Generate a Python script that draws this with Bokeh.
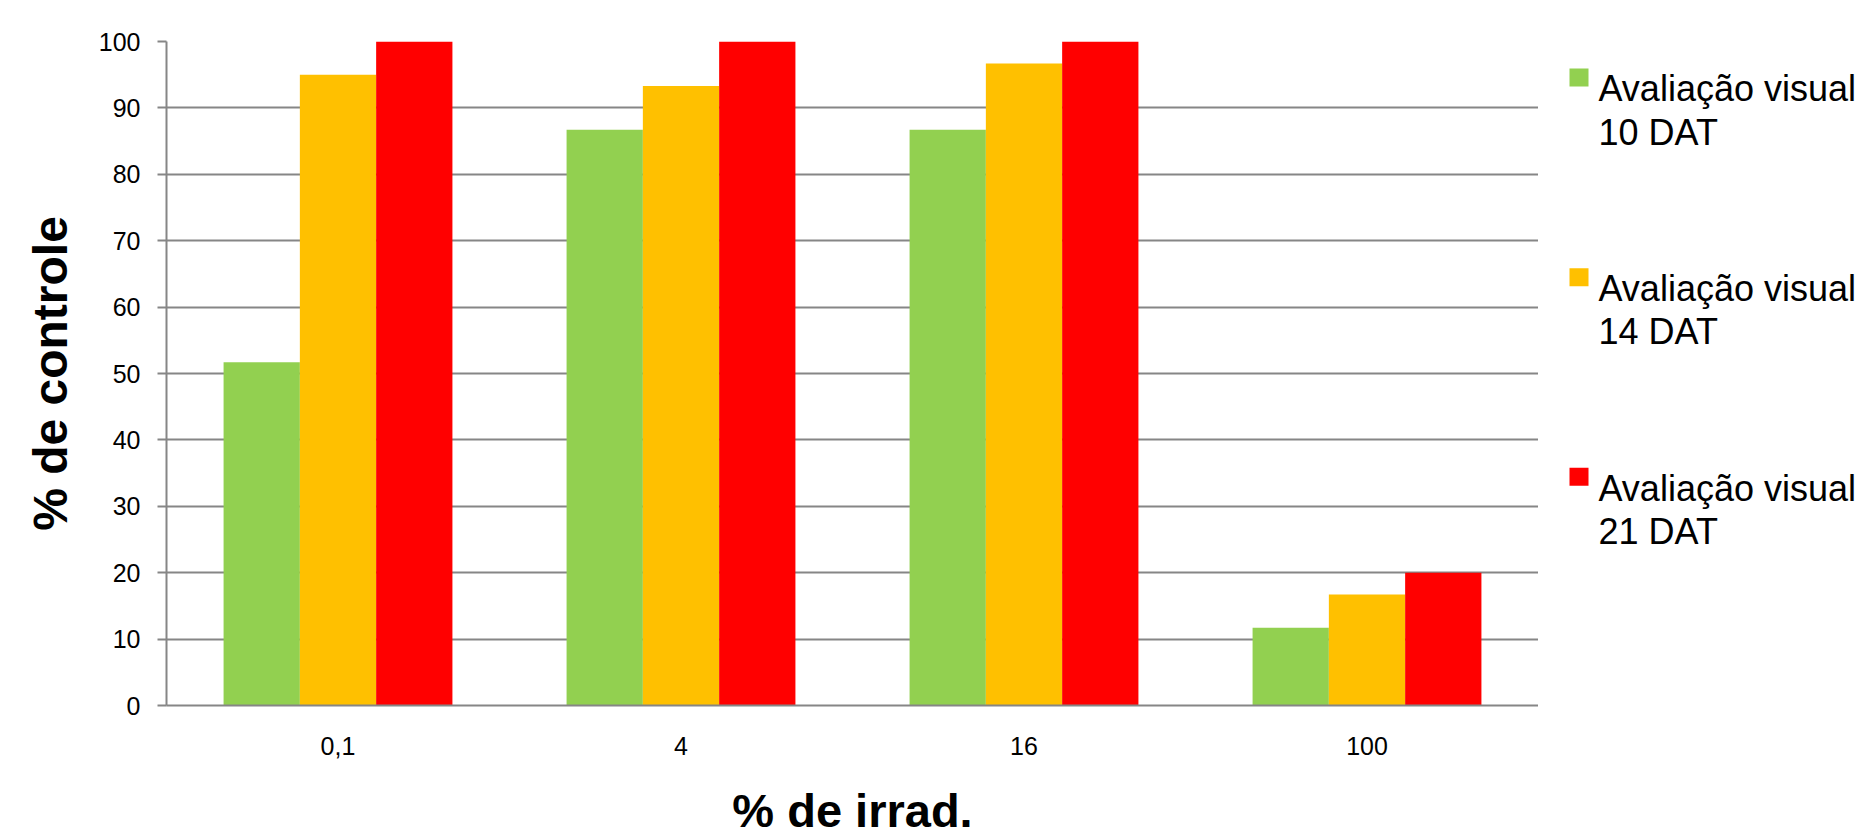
from bokeh.plotting import figure
from bokeh.layouts import row
from bokeh.models import (ColumnDataSource, FactorRange, Range1d, FixedTicker)
from bokeh.transform import dodge
from bokeh.core.properties import value
from bokeh.embed import file_html
from bokeh.resources import INLINE

categories = ["0,1", "4", "16", "100"]
v10 = [51.7, 86.7, 86.7, 11.7]
v14 = [95.0, 93.3, 96.7, 16.7]
v21 = [100.0, 100.0, 100.0, 20.0]
series_labels = ["Avaliação visual\n10 DAT", "Avaliação visual\n14 DAT", "Avaliação visual\n21 DAT"]
colors = ["#92D050", "#FFC000", "#FF0000"]
y_ticks = list(range(0, 101, 10))

FONT = "Liberation Sans"
GRAY = "#868686"
TOTAL_W, TOTAL_H = 1866, 839
MAIN_W = 1538
LEG_W = TOTAL_W - MAIN_W
TOP, BOTTOM = 41, 133
FRAME_BOTTOM_PX = TOTAL_H - BOTTOM

src = ColumnDataSource(dict(cat=categories, v10=v10, v14=v14, v21=v21))

p = figure(width=MAIN_W, height=TOTAL_H,
           x_range=FactorRange(factors=categories, range_padding=0),
           y_range=Range1d(0, 100),
           output_backend="svg", toolbar_location=None,
           min_border_left=166, min_border_top=TOP,
           min_border_bottom=BOTTOM, min_border_right=0)
p.outline_line_color = None
p.background_fill_color = "white"
p.border_fill_color = "white"

bw = 0.2224
for off, col, c in zip([-bw, 0.0, bw], ["v10", "v14", "v21"], colors):
    p.vbar(x=dodge("cat", off, range=p.x_range), top=col, width=bw, source=src,
           fill_color=c, line_color=None)

# grid
p.xgrid.grid_line_color = None
p.ygrid.grid_line_color = GRAY
p.ygrid.grid_line_width = 2
p.ygrid.ticker = FixedTicker(ticks=y_ticks)

# y axis
p.yaxis.ticker = FixedTicker(ticks=y_ticks)
p.yaxis.axis_line_color = GRAY
p.yaxis.axis_line_width = 2
p.yaxis.major_tick_line_color = GRAY
p.yaxis.major_tick_line_width = 2
p.yaxis.major_tick_in = 0
p.yaxis.major_tick_out = 9
p.yaxis.minor_tick_line_color = None
p.yaxis.major_label_standoff = 17
p.yaxis.major_label_text_font = FONT
p.yaxis.major_label_text_font_size = "25px"
p.yaxis.major_label_text_color = "#000000"
p.yaxis.axis_label = "% de controle"
p.yaxis.axis_label_text_font = FONT
p.yaxis.axis_label_text_font_size = "48px"
p.yaxis.axis_label_text_font_style = "bold"
p.yaxis.axis_label_text_color = "#000000"
p.yaxis.axis_label_standoff = 19

# x axis
p.xaxis.axis_line_color = GRAY
p.xaxis.axis_line_width = 2
p.xaxis.major_tick_line_color = None
p.xaxis.major_tick_in = 0
p.xaxis.major_tick_out = 0
p.xaxis.minor_tick_line_color = None
p.xaxis.major_label_standoff = 31
p.xaxis.major_label_text_font = FONT
p.xaxis.major_label_text_font_size = "25px"
p.xaxis.major_label_text_color = "#000000"
p.xaxis.axis_label = "% de irrad."
p.xaxis.axis_label_text_font = FONT
p.xaxis.axis_label_text_font_size = "47px"
p.xaxis.axis_label_text_font_style = "bold"
p.xaxis.axis_label_text_color = "#000000"
p.xaxis.axis_label_standoff = 26

# legend panel (separate figure; its frame matches the main frame, pixel coords, y downwards)
leg = figure(width=LEG_W, height=TOTAL_H, title=None,
             x_range=Range1d(0, LEG_W), y_range=Range1d(FRAME_BOTTOM_PX, TOP),
             output_backend="svg", toolbar_location=None,
             x_axis_location=None, y_axis_location=None,
             min_border_left=0, min_border_right=0,
             min_border_top=TOP, min_border_bottom=BOTTOM)
leg.outline_line_color = None
leg.xgrid.visible = False
leg.ygrid.visible = False
leg.background_fill_color = "white"
leg.border_fill_color = "white"

pitch = 200.0
first_box_center = 77.0
box_cx = 40.5
text_x = 60.0
line_gap = 43.3
box_y = [first_box_center + i * pitch for i in range(len(series_labels))]
line1 = [s.split("\n")[0] for s in series_labels]
line2 = [s.split("\n")[1] for s in series_labels]
base1 = [y + 11.5 for y in box_y]
base2 = [y + line_gap for y in base1]

leg.rect(x=[box_cx] * len(box_y), y=box_y, width=19, height=18,
         fill_color=colors, line_color=None)
leg.text(x=[text_x] * len(box_y), y=base1, text=line1, text_font=value(FONT),
         text_font_size="36px", text_color="#000000", text_baseline="alphabetic",
         text_align="left")
leg.text(x=[text_x] * len(box_y), y=base2, text=line2, text_font=value(FONT),
         text_font_size="36px", text_color="#000000", text_baseline="alphabetic",
         text_align="left")

layout = row(p, leg, spacing=0)
open("out.html", "w").write(file_html(layout, INLINE))
